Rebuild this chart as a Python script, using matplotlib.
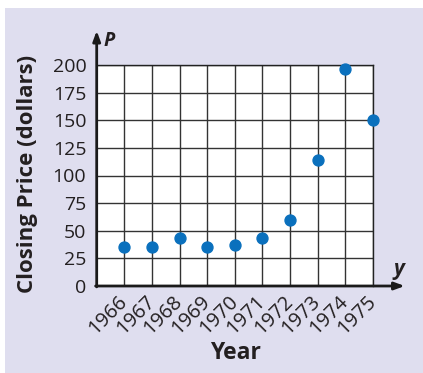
import matplotlib
matplotlib.use("Agg")
import matplotlib.pyplot as plt
from matplotlib.patches import Rectangle

years = [1966, 1967, 1968, 1969, 1970, 1971, 1972, 1973, 1974, 1975]
prices = [35, 35, 43, 35, 37, 43, 60, 114, 196, 150]
y_ticks = [0, 25, 50, 75, 100, 125, 150, 175, 200]

W, H = 423, 373
fig = plt.figure(figsize=(W / 100, H / 100), dpi=100)
fig.patch.set_facecolor("white")
bg = "#DFDEEF"
fig.patches.append(Rectangle((5 / W, 0), 1, 1 - 8 / H, transform=fig.transFigure,
                             facecolor=bg, edgecolor="none", zorder=-10))

x0, x1 = 96.7, 373.0
yb, yt = 286.0, 65.0
ax = fig.add_axes([x0 / W, 1 - yb / H, (x1 - x0) / W, (yb - yt) / H])
ax.set_facecolor("white")
ax.set_xlim(1965, 1975)
ax.set_ylim(0, 200)

font = "Open Sans"
txt = "#231F20"
ax.set_xticks(years)
ax.set_xticklabels([str(y) for y in years], rotation=45, ha="right", va="center",
                   rotation_mode="anchor", fontsize=14.5, family=font, color=txt)
ax.set_yticks(y_ticks)
ax.set_yticklabels([str(v) for v in y_ticks], fontsize=14, family=font, color=txt)
ax.tick_params(axis="both", length=0)
ax.tick_params(axis="y", pad=7.5)
ax.tick_params(axis="x", pad=9)
ax.grid(True, color="#333333", linewidth=1.0)
ax.set_axisbelow(True)
for s in ["top", "right"]:
    ax.spines[s].set_linewidth(1.0)
    ax.spines[s].set_color("#222222")
for s in ["left", "bottom"]:
    ax.spines[s].set_visible(False)

ax.scatter(years, prices, s=62, color="#0A70BD", zorder=5, clip_on=False)

# axes with arrows
ax.annotate("", xy=(0, 1.155), xytext=(0, -0.004), xycoords="axes fraction",
            arrowprops=dict(arrowstyle="-|>,head_length=0.6,head_width=0.22",
                            color="#1a1a1a", lw=2.0, shrinkA=0, shrinkB=0), annotation_clip=False)
ax.annotate("", xy=(1.115, 0), xytext=(-0.004, 0), xycoords="axes fraction",
            arrowprops=dict(arrowstyle="-|>,head_length=0.6,head_width=0.22",
                            color="#1a1a1a", lw=2.0, shrinkA=0, shrinkB=0), annotation_clip=False)

fig.text(103 / W, 1 - 41 / H, "P", fontsize=14, family=font, fontweight="bold",
         fontstyle="italic", ha="left", va="center", color=txt)
fig.text(399 / W, 1 - 270 / H, "y", fontsize=15, family=font, fontweight="bold",
         fontstyle="italic", ha="center", va="center", color=txt)

fig.text(235 / W, 1 - 353 / H, "Year", fontsize=16.5, family=font, fontweight="bold",
         ha="center", va="center", color=txt)
fig.text(28 / W, 1 - 174 / H, "Closing Price (dollars)", fontsize=16, family=font,
         fontweight="bold", rotation=90, ha="center", va="center", color=txt)

fig.savefig("out.png", dpi=100)
